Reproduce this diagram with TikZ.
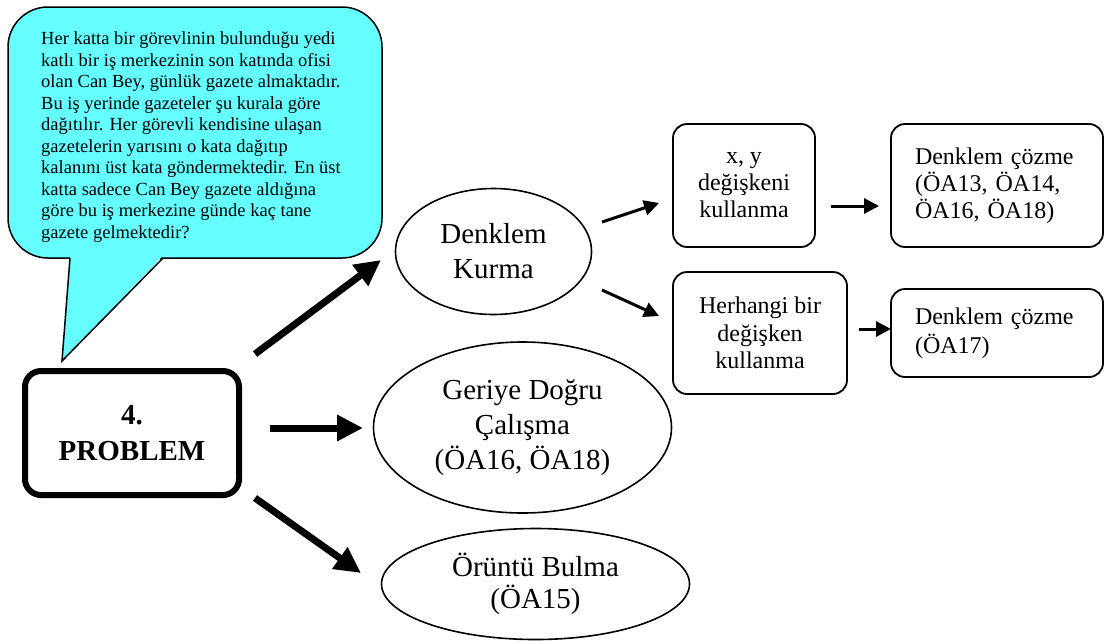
\documentclass[tikz,border=0pt]{standalone}
\usepackage{fontspec}
\setmainfont{Liberation Serif}
\usetikzlibrary{shapes.geometric,arrows.meta}
\definecolor{callout}{RGB}{102,255,255}
\tikzset{
  txt/.style={align=center, inner sep=0pt, font=\fontsize{24}{27}\selectfont},
  big/.style={font=\fontsize{29}{35}\selectfont},
  rbox/.style={draw, line width=1.8pt, rounded corners=14pt, inner sep=0pt},
  oval/.style={draw, ellipse, line width=1.6pt, inner sep=0pt},
  bigarrow/.style={line width=7pt, -{Triangle[length=26pt,width=25pt]}},
  smallarrow/.style={line width=3pt, -{Triangle[length=15pt,width=15pt]}},
}
\begin{document}
\begin{tikzpicture}[x=1pt,y=-1pt]
\useasboundingbox (0,0) rectangle (1105,641);
% callout
\filldraw[fill=callout, draw=black, line width=1.5pt, rounded corners=40pt] (8,7) rectangle (382,258);
\fill[callout] (70,255.5) -- (163,255.5) -- (62,361) -- cycle;
\draw[line width=1.5pt, line join=miter] (70,258) -- (62,361) -- (163,258);
\node[anchor=west, align=left, inner sep=0pt, font=\fontsize{18.5}{21.5}\selectfont] (story) at (41,137)
 {Her katta bir görevlinin bulunduğu yedi\\
  katlı bir iş merkezinin son katında ofisi\\
  olan Can Bey, günlük gazete almaktadır.\\
  Bu iş yerinde gazeteler şu kurala göre\\
  dağıtılır. Her görevli kendisine ulaşan\\
  gazetelerin yarısını o kata dağıtıp\\
  kalanını üst kata göndermektedir. En üst\\
  katta sadece Can Bey gazete aldığına\\
  göre bu iş merkezine günde kaç tane\\
  gazete gelmektedir?};
% problem
\node[draw, line width=6pt, rounded corners=16pt, minimum width=214pt, minimum height=124pt, align=center, inner sep=0pt,
  font=\fontsize{29}{36}\selectfont\bfseries] (prob) at (132,433) {4.\\PROBLEM};
% ellipses
\node[oval, txt, big, minimum width=196pt, minimum height=126pt] (kur) at (493.5,251.5) {Denklem\\Kurma};
\node[oval, txt, big, minimum width=298pt, minimum height=171pt] (ger) at (522.5,427.5) {Geriye Doğru\\Çalışma\\(ÖA16, ÖA18)};
\node[oval, txt, big, font=\fontsize{29}{32}\selectfont, minimum width=308pt, minimum height=111pt] (oru) at (535.5,584) {Örüntü Bulma\\(ÖA15)};
% boxes
\node[rbox, txt, minimum width=142pt, minimum height=123pt] (xy) at (744,185.5) {x, y\\değişkeni\\kullanma};
\node[rbox, txt, minimum width=174pt, minimum height=122pt, font=\fontsize{24}{27.5}\selectfont] (her) at (760,333) {Herhangi bir\\değişken\\kullanma};
\node[rbox, txt, align=left, minimum width=212pt, minimum height=123pt, text width=164pt] (coz1) at (997,185.5) {Denklem çözme\\(ÖA13, ÖA14,\\ÖA16, ÖA18)};
\node[rbox, txt, align=left, minimum width=212pt, minimum height=88pt, text width=164pt, font=\fontsize{24}{29}\selectfont] (coz2) at (997,333) {Denklem çözme\\(ÖA17)};
% connector end points
\coordinate (a1s) at (255,354);
\coordinate (a1e) at (381,260);
\coordinate (a2s) at (270,428);
\coordinate (a2e) at (363,428);
\coordinate (a3s) at (255,498);
\coordinate (a3e) at (361,573);
\coordinate (b1s) at (602,222);
\coordinate (b1e) at (659,203);
\coordinate (b2s) at (602,290);
\coordinate (b2e) at (659,316);
\coordinate (c1s) at (831,206);
\coordinate (c1e) at (879,206);
\coordinate (c2s) at (859,329);
\coordinate (c2e) at (891,329);
\draw[bigarrow] (a1s) -- (a1e);
\draw[bigarrow] (a2s) -- (a2e);
\draw[bigarrow] (a3s) -- (a3e);
\draw[smallarrow] (b1s) -- (b1e);
\draw[smallarrow] (b2s) -- (b2e);
\draw[smallarrow] (c1s) -- (c1e);
\draw[smallarrow] (c2s) -- (c2e);
\end{tikzpicture}
\end{document}
